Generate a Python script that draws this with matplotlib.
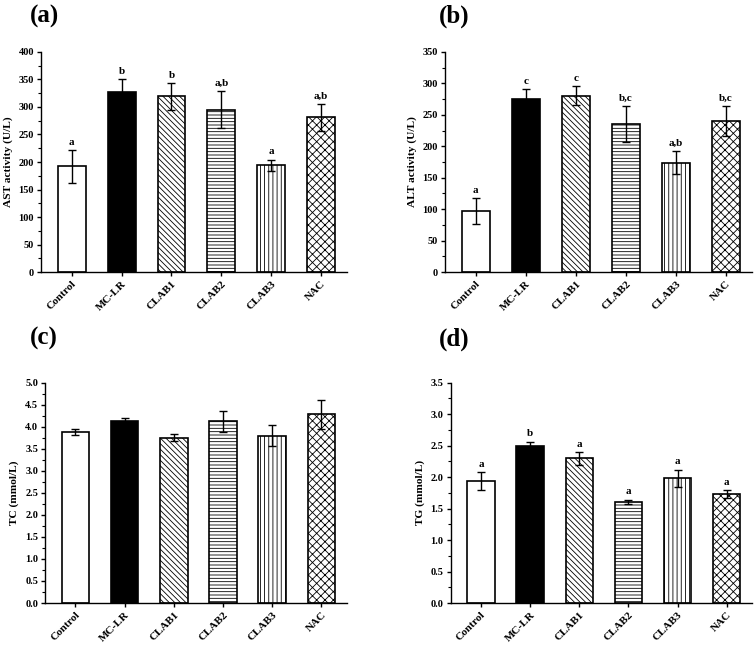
import numpy as np
import matplotlib
matplotlib.use('Agg')
import matplotlib.pyplot as plt
from matplotlib.ticker import MultipleLocator, FormatStrFormatter

plt.rcParams['font.family'] = 'Liberation Serif'
plt.rcParams['font.weight'] = 'bold'
plt.rcParams['hatch.linewidth'] = 0.6

grupos = ['Control', 'MC-LR', 'CLAB1', 'CLAB2', 'CLAB3', 'NAC']
hachuras = ['', '', '\\' * 6, '-' * 5, '|' * 4, 'x' * 4]
cores = ['white', 'black', 'white', 'white', 'white', 'white']

ast = [192, 327, 319, 295, 194, 281]
ast_err = [30, 23, 24, 33, 10, 25]
ast_letras = ['a', 'b', 'b', 'a,b', 'a', 'a,b']

alt = [97, 275, 280, 235, 174, 240]
alt_err = [21, 16, 15, 29, 18, 24]
alt_letras = ['a', 'c', 'c', 'b,c', 'a,b', 'b,c']

tc = [3.88, 4.14, 3.75, 4.12, 3.80, 4.28]
tc_err = [0.06, 0.06, 0.08, 0.23, 0.23, 0.32]
tc_letras = None

tg = [1.94, 2.49, 2.30, 1.61, 1.98, 1.73]
tg_err = [0.14, 0.075, 0.10, 0.03, 0.14, 0.065]
tg_letras = ['a', 'b', 'a', 'a', 'a', 'a']

fig = plt.figure(figsize=(7.56, 6.48), dpi=100)

paineis = [
    ([0.054, 0.580, 0.405, 0.340], ast, ast_err, ast_letras, 'AST activity (U/L)', 400, 50, '%d', '(a)', (0.040, 0.993)),
    ([0.588, 0.580, 0.407, 0.340], alt, alt_err, alt_letras, 'ALT activity (U/L)', 350, 50, '%d', '(b)', (0.580, 0.993)),
    ([0.0595, 0.0694, 0.3995, 0.340], tc, tc_err, tc_letras, 'TC (mmol/L)', 5.0, 0.5, '%.1f', '(c)', (0.040, 0.495)),
    ([0.596, 0.0694, 0.399, 0.340], tg, tg_err, tg_letras, 'TG (mmol/L)', 3.5, 0.5, '%.1f', '(d)', (0.580, 0.495)),
]

x = np.arange(len(grupos))
for pos, vals, errs, letras, ylabel, ymax, passo, fmt, rotulo, rpos in paineis:
    ax = fig.add_axes(pos)
    for i in range(len(grupos)):
        ax.bar(x[i], vals[i], width=0.56, color=cores[i], edgecolor='black',
               linewidth=1.2, hatch=hachuras[i], zorder=2)
    ax.errorbar(x, vals, yerr=errs, fmt='none', ecolor='black', elinewidth=1,
                capsize=3, capthick=1, zorder=3)
    if letras is not None:
        for i in range(len(grupos)):
            ax.text(x[i], vals[i] + errs[i] + ymax * 0.015, letras[i],
                    ha='center', va='bottom', fontsize=8, fontweight='bold')
    ax.set_xlim(-0.62, 5.52)
    ax.set_ylim(0, ymax)
    ax.yaxis.set_major_locator(MultipleLocator(passo))
    ax.yaxis.set_minor_locator(MultipleLocator(passo / 2))
    ax.yaxis.set_major_formatter(FormatStrFormatter(fmt))
    ax.set_xticks(x)
    ax.set_xticklabels(grupos, rotation=45, ha='right', rotation_mode='anchor')
    ax.tick_params(axis='both', which='major', direction='out', length=3, width=1,
                   pad=2)
    ax.tick_params(axis='y', labelsize=7.5)
    ax.tick_params(axis='x', labelsize=8)
    ax.tick_params(axis='y', which='minor', direction='out', length=2, width=0.8)
    for lab in ax.get_xticklabels() + ax.get_yticklabels():
        lab.set_fontweight('bold')
    ax.spines['top'].set_visible(False)
    ax.spines['right'].set_visible(False)
    ax.spines['left'].set_linewidth(1)
    ax.spines['bottom'].set_linewidth(1)
    ax.set_ylabel(ylabel, fontsize=8.2, fontweight='bold')
    fig.text(rpos[0], rpos[1], rotulo, fontsize=18, fontweight='bold', va='top', ha='left')

fig.savefig('out.png', dpi=100)
